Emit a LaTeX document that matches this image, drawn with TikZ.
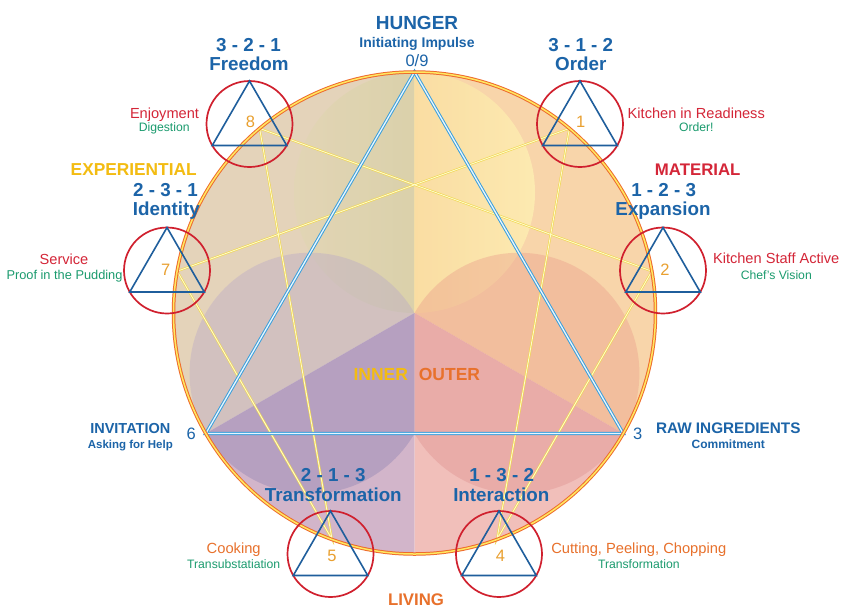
\documentclass[tikz,border=0pt]{standalone}
\usepackage{fontspec}
\setmainfont{Liberation Sans}
\definecolor{tblue}{HTML}{1C64A8}
\definecolor{tred}{HTML}{D42638}
\definecolor{tgreen}{HTML}{1B9B6E}
\definecolor{torange}{HTML}{E8712C}
\definecolor{tyellow}{HTML}{F3BC12}
\definecolor{tgold}{HTML}{E9A030}
\definecolor{sblue}{HTML}{1F5E9C}
\definecolor{sred}{HTML}{D0202E}
\definecolor{secTL}{HTML}{E4D3BA}
\definecolor{secTR}{HTML}{F8D5AA}
\definecolor{secBL}{HTML}{D2B5CA}
\definecolor{secBR}{HTML}{F1BFBA}
\definecolor{ovYLa}{HTML}{E2D6B4}
\definecolor{ovYLb}{HTML}{CDCB98}
\definecolor{ovYRa}{HTML}{F6CF8C}
\definecolor{ovYRb}{HTML}{FFF3B4}
\definecolor{ovP}{HTML}{A090B8}
\definecolor{ovPL}{HTML}{B8A8C8}
\definecolor{ovK}{HTML}{E29A98}
\definecolor{ovKR}{HTML}{EA9C8A}
\definecolor{triblue}{HTML}{3B9FDB}
\definecolor{trilight}{HTML}{E6F6FF}
\definecolor{ringout}{HTML}{EE6B2D}
\definecolor{ringin}{HTML}{FFE860}
\definecolor{hexout}{HTML}{F0D64E}
\definecolor{hexin}{HTML}{FFFBC8}
\tikzset{
  lbl/.style={anchor=base, inner sep=0pt, outer sep=0pt},
  hd/.style={lbl, text=tblue, font=\bfseries\fontsize{18.8}{20}\selectfont},
  redl/.style={lbl, text=tred, font=\fontsize{14.6}{16}\selectfont},
  greenl/.style={lbl, text=tgreen, font=\fontsize{12.2}{14}\selectfont},
  orangel/.style={lbl, text=torange, font=\fontsize{14.7}{16}\selectfont},
  bluenum/.style={lbl, text=tblue, font=\fontsize{16.5}{18}\selectfont},
  goldnum/.style={lbl, text=tgold, font=\fontsize{16.5}{18}\selectfont},
  smallc/.style={circle, draw=sred, line width=1.7pt, minimum size=86pt, inner sep=0pt, outer sep=0pt},
  smalltri/.style={draw=sblue, line width=1.6pt, line join=miter},
  hexline/.style={draw=hexout, line width=0.6pt, double=hexin, double distance=0.9pt},
  bigtri/.style={draw=triblue, line width=1pt, double=trilight, double distance=1.3pt},
  ring/.style={draw=ringout, line width=1pt, double=ringin, double distance=1.5pt},
}
\begin{document}
\begin{tikzpicture}[x=1pt,y=-1pt]
\useasboundingbox (0,0) rectangle (852,614);
\fill[white] (0,0) rectangle (852,614);
\coordinate (C) at (414.5,313);
\coordinate (Y) at (414.5,192.5);
\coordinate (P) at (310.1,373.25);
\coordinate (K) at (518.9,373.25);
\coordinate (a90) at (414.5,-87);
\coordinate (a150) at (68.1,113);
\coordinate (a210) at (68.1,513);
\coordinate (a270) at (414.5,713);
\coordinate (a330) at (760.9,513);
\coordinate (a30) at (760.9,113);
% enneagram points
\coordinate (p9) at (414.5,72);
\coordinate (p1) at (569.4,128.4);
\coordinate (p2) at (651.8,271.2);
\coordinate (p3) at (623.2,433.5);
\coordinate (p4) at (496.9,539.5);
\coordinate (p5) at (332.1,539.5);
\coordinate (p6) at (205.8,433.5);
\coordinate (p7) at (177.2,271.2);
\coordinate (p8) at (259.6,128.4);
% sectors
\begin{scope}
  \clip (C) circle (241);
  \fill[secTL] (C) -- (a90) -- (a150) -- (a210) -- cycle;
  \fill[secTR] (C) -- (a90) -- (a30) -- (a330) -- cycle;
  \fill[secBL] (C) -- (a210) -- (a270) -- cycle;
  \fill[secBR] (C) -- (a270) -- (a330) -- cycle;
\end{scope}
\begin{scope}
  \clip (C) circle (241);
  \clip (C) -- (a90) -- (a150) -- (a210) -- cycle;
  \shade[left color=ovYLa, right color=ovYLb, fill opacity=0.75] (Y) circle (120.5);
  \fill[ovPL, fill opacity=0.4] (P) circle (120.5);
\end{scope}
\begin{scope}
  \clip (C) circle (241);
  \clip (C) -- (a90) -- (a30) -- (a330) -- cycle;
  \shade[left color=ovYRa, right color=ovYRb, fill opacity=0.7] (Y) circle (120.5);
  \fill[ovKR, fill opacity=0.4] (K) circle (120.5);
\end{scope}
\begin{scope}
  \clip (C) circle (241);
  \clip (C) -- (a210) -- (a270) -- cycle;
  \fill[ovP, fill opacity=0.55] (P) circle (120.5);
\end{scope}
\begin{scope}
  \clip (C) circle (241);
  \clip (C) -- (a270) -- (a330) -- cycle;
  \fill[ovK, fill opacity=0.5] (K) circle (120.5);
\end{scope}
% hexad
\draw[hexline] (p1) -- (p4) -- (p2) -- (p8) -- (p5) -- (p7) -- cycle;
% big triangle
\draw[bigtri] (p9) -- (p3) -- (p6) -- cycle;
% ring
\draw[ring] (C) circle (241);
% small circles
\foreach \n/\x/\y in {8/249.5/124, 1/580/124, 7/167/270.5, 2/663/270.5, 5/330.5/554, 4/499/554}{
  \node[smallc] (c\n) at (\x,\y) {};
  \draw[smalltri] (c\n.90) -- (c\n.210) -- (c\n.330) -- cycle;
}
% numbers in circles
\node[goldnum] (n8) at (250.5,127.3) {8};
\node[goldnum] (n1) at (580.8,127.3) {1};
\node[goldnum] (n2) at (665,275.7) {2};
\node[goldnum] (n7) at (165.8,275.7) {7};
\node[goldnum] (n5) at (332,561.7) {5};
\node[goldnum] (n4) at (500.5,561.7) {4};
% top
\node[lbl, text=tblue, font=\bfseries\fontsize{19}{20}\selectfont] (hunger) at (417,29.5) {HUNGER};
\node[lbl, text=tblue, font=\bfseries\fontsize{14}{16}\selectfont] (init) at (417,47.3) {Initiating Impulse};
\node[bluenum] (n09) at (417,66.7) {0/9};
% headings
\node[hd] (h8a) at (248.5,51.7) {3 - 2 - 1};
\node[hd] (h8b) at (249,70.7) {Freedom};
\node[hd] (h1a) at (580.8,51.7) {3 - 1 - 2};
\node[hd] (h1b) at (580.8,70.7) {Order};
\node[hd] (h7a) at (165.5,196.5) {2 - 3 - 1};
\node[hd] (h7b) at (166.3,215) {Identity};
\node[hd] (h2a) at (663.7,196.5) {1 - 2 - 3};
\node[hd] (h2b) at (663,215) {Expansion};
\node[hd] (h5a) at (333.3,481.7) {2 - 1 - 3};
\node[hd] (h5b) at (333.3,501.7) {Transformation};
\node[hd] (h4a) at (501.7,481.7) {1 - 3 - 2};
\node[hd] (h4b) at (501.3,501.7) {Interaction};
% side labels
\node[redl] (r8) at (164.5,118.5) {Enjoyment};
\node[greenl] (g8) at (164.2,131.5) {Digestion};
\node[redl] (r1) at (696.3,118.5) {Kitchen in Readiness};
\node[greenl] (g1) at (696.3,131.5) {Order!};
\node[redl] (r7) at (64,264.5) {Service};
\node[lbl, text=tgreen, font=\fontsize{12.8}{15}\selectfont] (g7) at (64.5,279.8) {Proof in the Pudding};
\node[redl] (r2) at (776.2,263.3) {Kitchen Staff Active};
\node[greenl] (g2) at (776.3,279.3) {Chef's Vision};
\node[orangel] (o5) at (233.7,553.3) {Cooking};
\node[greenl] (g5) at (233.7,568.3) {Transubstatiation};
\node[orangel] (o4) at (638.8,553.3) {Cutting, Peeling, Chopping};
\node[greenl] (g4) at (638.8,568.3) {Transformation};
% categories
\node[lbl, text=tyellow, font=\bfseries\fontsize{17.3}{19}\selectfont] (exp) at (133.7,175) {EXPERIENTIAL};
\node[lbl, text=tred, font=\bfseries\fontsize{16.8}{19}\selectfont] (mat) at (697.7,175) {MATERIAL};
\node[lbl, text=torange, font=\bfseries\fontsize{16.8}{19}\selectfont] (liv) at (416,605) {LIVING};
\node[lbl, text=tyellow, font=\bfseries\fontsize{17.5}{19}\selectfont] (inner) at (380.8,380.7) {INNER};
\node[lbl, text=torange, font=\bfseries\fontsize{17.5}{19}\selectfont] (outer) at (449.5,380.7) {OUTER};
% 6 and 3
\node[lbl, text=tblue, font=\bfseries\fontsize{14.5}{16}\selectfont] (inv) at (130.3,433.3) {INVITATION};
\node[lbl, text=tblue, font=\bfseries\fontsize{11.5}{13}\selectfont] (ask) at (130.3,448.3) {Asking for Help};
\node[bluenum] (n6) at (191.3,439) {6};
\node[bluenum] (n3) at (637.8,439) {3};
\node[lbl, text=tblue, font=\bfseries\fontsize{15.3}{17}\selectfont] (raw) at (728.3,433.3) {RAW INGREDIENTS};
\node[lbl, text=tblue, font=\bfseries\fontsize{12}{14}\selectfont] (com) at (728.3,448.3) {Commitment};
\end{tikzpicture}
\end{document}
